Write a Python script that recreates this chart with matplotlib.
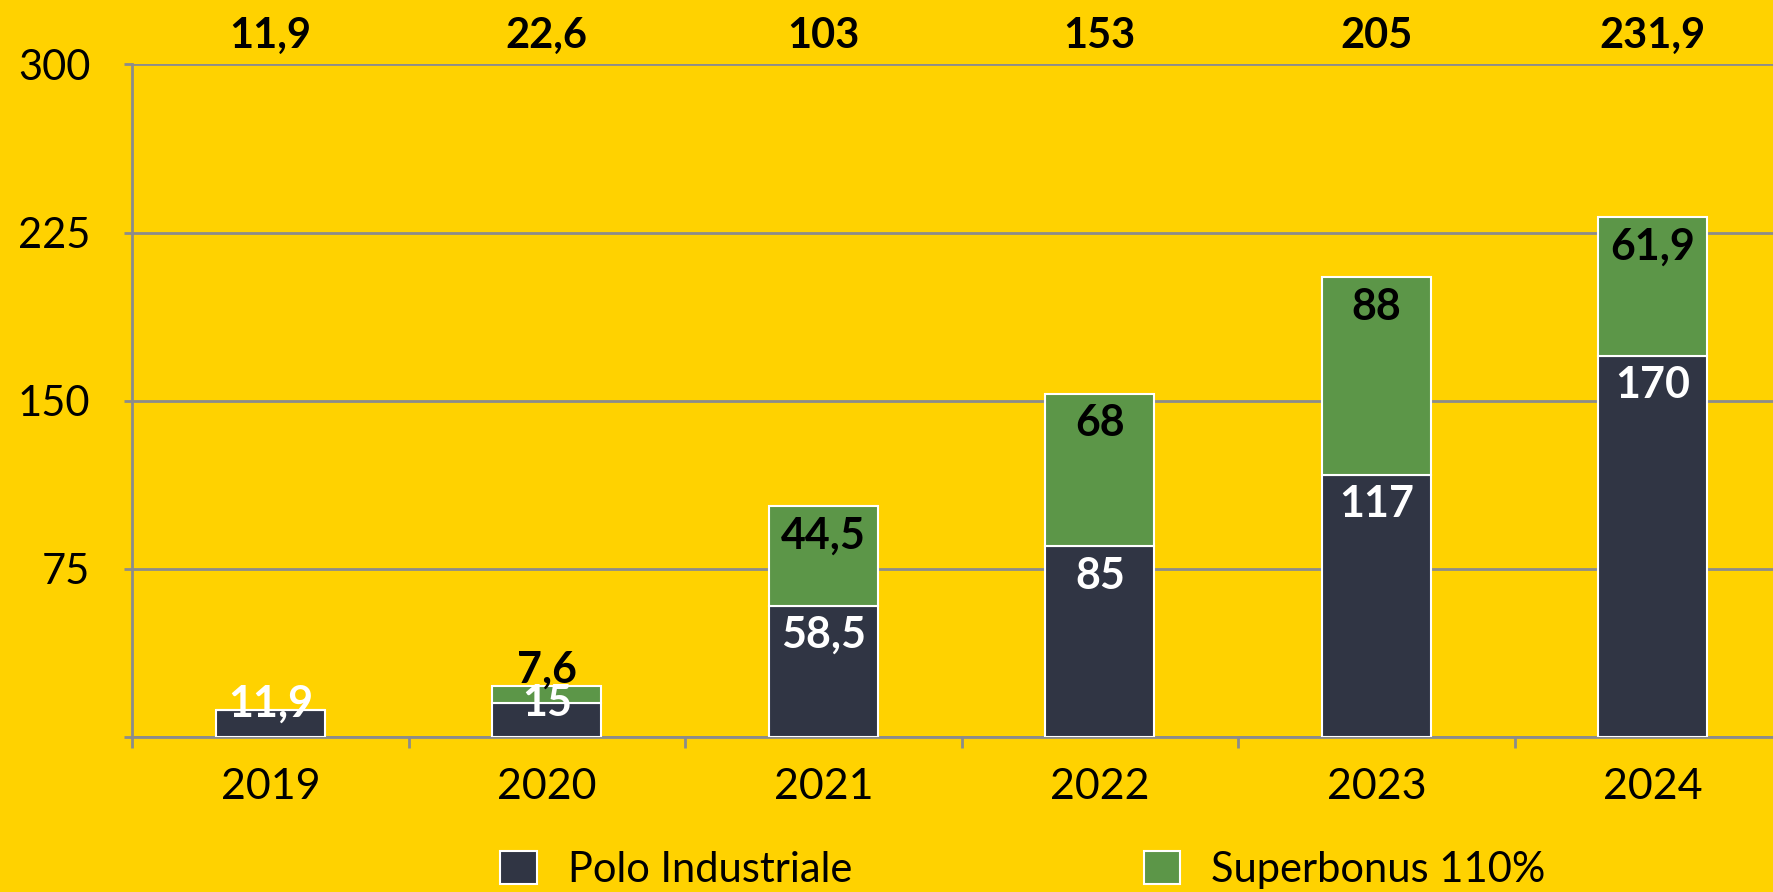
import matplotlib
matplotlib.use("Agg")
import matplotlib.pyplot as plt
import matplotlib.transforms as mtransforms
from matplotlib.patches import Patch
import numpy as np

years = ["2019", "2020", "2021", "2022", "2023", "2024"]
polo = [11.9, 15, 58.5, 85, 117, 170]
superbonus = [0, 7.6, 44.5, 68, 88, 61.9]
polo_labels = ["11,9", "15", "58,5", "85", "117", "170"]
super_labels = ["", "7,6", "44,5", "68", "88", "61,9"]
total_labels = ["11,9", "22,6", "103", "153", "205", "231,9"]
yticks = [0, 75, 150, 225, 300]
ytick_labels = ["", "75", "150", "225", "300"]
series_names = ["Polo Industriale", "Superbonus 110%"]

BG = "#FFD200"
DARK = "#303544"
GREEN = "#5C9648"
GRID = "#8C8C8C"
FONT = ["Lato", "DejaVu Sans"]

plt.rcParams["font.family"] = FONT

fig = plt.figure(figsize=(17.73, 8.92), dpi=100, facecolor=BG)
ax = fig.add_axes([0.0745, 0.1738, 0.9357, 0.7539], facecolor=BG)

x = np.arange(len(years))
w = 0.395
ax.bar(x, polo, w, color=DARK, edgecolor="white", linewidth=1.5, zorder=3)
ax.bar(x, superbonus, w, bottom=polo, color=GREEN, edgecolor="white", linewidth=1.5, zorder=3)

ax.set_xlim(-0.5, len(years) - 0.5)
ax.set_ylim(0, 300)
ax.set_yticks(yticks)
ax.set_yticklabels(ytick_labels)
ax.yaxis.grid(True, color=GRID, linewidth=2, zorder=0)
ax.tick_params(axis="y", length=6, width=2, color=GRID, labelsize=30, pad=24)

ax.set_xticks(np.arange(-0.5, len(years) + 0.5, 1))
ax.set_xticklabels([])
ax.set_xticks(x, minor=True)
ax.set_xticklabels(years, minor=True)
ax.tick_params(axis="x", which="major", length=8, width=2, color=GRID)
ax.tick_params(axis="x", which="minor", length=0, labelsize=31, pad=22)

for s in ["top", "right"]:
    ax.spines[s].set_visible(False)
for s in ["left", "bottom"]:
    ax.spines[s].set_color(GRID)
    ax.spines[s].set_linewidth(2)

off = 13
half = 15
for i in range(len(years)):
    b0, t0 = 0, polo[i]
    y = max(t0 - off, b0 + half)
    ax.text(x[i], y, polo_labels[i], ha="center", va="center", color="white",
            fontsize=31, fontweight="bold", zorder=5)
    if superbonus[i] > 0:
        b1, t1 = polo[i], polo[i] + superbonus[i]
        y = max(t1 - off, b1 + half)
        ax.text(x[i], y, super_labels[i], ha="center", va="center", color="black",
                fontsize=31, fontweight="bold", zorder=5)

trans = mtransforms.blended_transform_factory(ax.transData, ax.transAxes)
for i in range(len(years)):
    ax.text(x[i], 1.043, total_labels[i], transform=trans, ha="center", va="center",
            fontsize=30, fontweight="bold", color="black")

handles = [Patch(facecolor=DARK, edgecolor="white", linewidth=1.5),
           Patch(facecolor=GREEN, edgecolor="white", linewidth=1.5)]
leg = fig.legend(handles, series_names, loc="center", bbox_to_anchor=(0.577, 0.025),
                 ncol=2, frameon=False, fontsize=30, handlelength=0.87, handleheight=0.87,
                 columnspacing=7.0, handletextpad=0.75)

fig.savefig("out.png", dpi=100, facecolor=BG)
